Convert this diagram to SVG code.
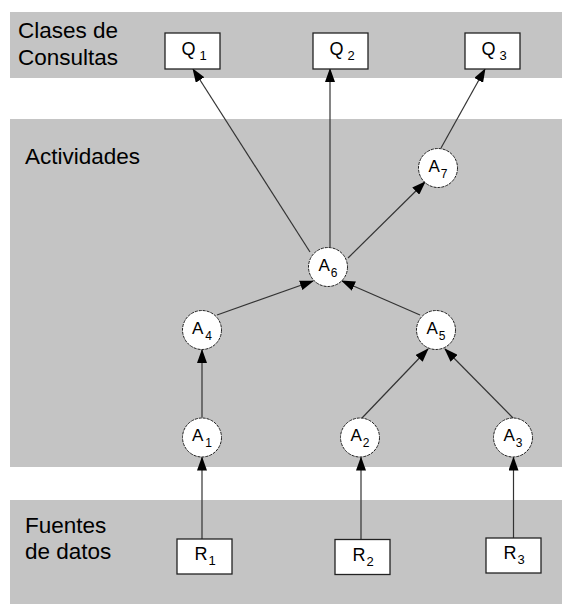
<svg xmlns="http://www.w3.org/2000/svg" width="562" height="604" viewBox="0 0 562 604">
  <style>
    .band { fill: #c4c4c4; }
    .lbl { font-family: "Liberation Sans", Arial, sans-serif; font-size: 22.5px; fill: #000; }
    .box { fill: #fff; stroke: #222; stroke-width: 1.3; }
    .circ { fill: #fff; stroke: #222; stroke-width: 1; stroke-dasharray: 3 1; }
    .nt { font-family: "Liberation Sans", Arial, sans-serif; fill: #000; text-anchor: middle; }
    .edge { stroke: #333; stroke-width: 1.2; fill: none; marker-end: url(#arr); }
  </style>
  <defs>
    <marker id="arr" markerUnits="userSpaceOnUse" markerWidth="14" markerHeight="10" viewBox="0 0 14 10" refX="13" refY="5" orient="auto">
      <path d="M0,0 L14,5 L0,10 Z" fill="#000"/>
    </marker>
  </defs>
  <rect width="562" height="604" fill="#fff"/>
  <g id="bands">
    <rect class="band" x="10" y="12" width="552" height="66"/>
    <rect class="band" x="10" y="119" width="552" height="348"/>
    <rect class="band" x="10" y="500" width="552" height="104"/>
    <text class="lbl" x="18" y="38">Clases de</text>
    <text class="lbl" x="18" y="65">Consultas</text>
    <text class="lbl" x="25" y="164">Actividades</text>
    <text class="lbl" x="25" y="533">Fuentes</text>
    <text class="lbl" x="25" y="559">de datos</text>
  </g>
  <g id="connectors">
    <line class="edge" x1="202" y1="539" x2="202" y2="457.5"/>
    <line class="edge" x1="361" y1="539" x2="361" y2="457.5"/>
    <line class="edge" x1="513.5" y1="538" x2="513.5" y2="457.5"/>
    <line class="edge" x1="202" y1="417.5" x2="202" y2="350"/>
    <line class="edge" x1="362" y1="418" x2="428" y2="349"/>
    <line class="edge" x1="513" y1="418" x2="445" y2="349"/>
    <line class="edge" x1="217" y1="315" x2="313" y2="281"/>
    <line class="edge" x1="420" y1="315" x2="342" y2="281"/>
    <line class="edge" x1="348" y1="258" x2="425" y2="182"/>
    <line class="edge" x1="310" y1="252" x2="193" y2="69"/>
    <line class="edge" x1="330" y1="247" x2="330" y2="69"/>
    <line class="edge" x1="441" y1="148" x2="485" y2="69"/>
  </g>
  <g id="Q1"><rect class="box" x="165" y="33" width="55" height="36"/><text class="nt" x="194" y="55" font-size="18">Q<tspan dx="4" dy="5" font-size="13">1</tspan></text></g>
  <g id="Q2"><rect class="box" x="313" y="33" width="55" height="36"/><text class="nt" x="342" y="55" font-size="18">Q<tspan dx="4" dy="5" font-size="13">2</tspan></text></g>
  <g id="Q3"><rect class="box" x="465" y="33" width="55" height="36"/><text class="nt" x="494" y="55" font-size="18">Q<tspan dx="4" dy="5" font-size="13">3</tspan></text></g>
  <g id="A7"><circle class="circ" cx="438" cy="168" r="19.5"/><text class="nt" x="438" y="172" font-size="17">A<tspan dx="1" dy="6" font-size="12">7</tspan></text></g>
  <g id="A6"><circle class="circ" cx="328" cy="267" r="19.5"/><text class="nt" x="328" y="271" font-size="17">A<tspan dx="1" dy="6" font-size="12">6</tspan></text></g>
  <g id="A4"><circle class="circ" cx="202" cy="330" r="19.5"/><text class="nt" x="202" y="334" font-size="17">A<tspan dx="2" dy="6" font-size="12">4</tspan></text></g>
  <g id="A5"><circle class="circ" cx="436" cy="330" r="19.5"/><text class="nt" x="436" y="334" font-size="17">A<tspan dx="1" dy="6" font-size="12">5</tspan></text></g>
  <g id="A1"><circle class="circ" cx="202" cy="437.5" r="19.5"/><text class="nt" x="202" y="441" font-size="17">A<tspan dx="2" dy="6" font-size="12">1</tspan></text></g>
  <g id="A2"><circle class="circ" cx="360" cy="437.5" r="19.5"/><text class="nt" x="360" y="441" font-size="17">A<tspan dx="1" dy="6" font-size="12">2</tspan></text></g>
  <g id="A3"><circle class="circ" cx="513" cy="437.5" r="19.5"/><text class="nt" x="513" y="441" font-size="17">A<tspan dx="1" dy="6" font-size="12">3</tspan></text></g>
  <g id="R1"><rect class="box" x="177" y="539" width="55" height="35"/><text class="nt" x="205" y="560" font-size="18">R<tspan dx="1" dy="5" font-size="13">1</tspan></text></g>
  <g id="R2"><rect class="box" x="335" y="539.5" width="55" height="35"/><text class="nt" x="363" y="560.5" font-size="18">R<tspan dx="1" dy="5" font-size="13">2</tspan></text></g>
  <g id="R3"><rect class="box" x="486" y="538" width="55" height="35"/><text class="nt" x="514" y="559" font-size="18">R<tspan dx="1" dy="5" font-size="13">3</tspan></text></g>
</svg>
